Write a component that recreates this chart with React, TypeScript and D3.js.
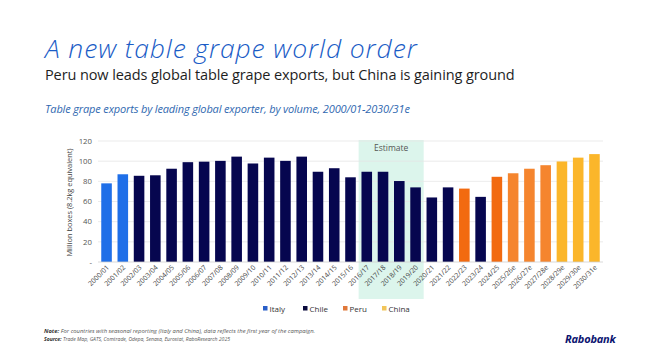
import React from "react";
import * as d3 from "d3";

const categories = [
  "2000/01","2001/02","2002/03","2003/04","2004/05","2005/06","2006/07","2007/08",
  "2008/09","2009/10","2010/11","2011/12","2012/13","2013/14","2014/15","2015/16",
  "2016/17","2017/18","2018/19","2019/20","2020/21","2021/22","2022/23","2023/24",
  "2024/25","2025/26e","2026/27e","2027/28e","2028/29e","2029/30e","2030/31e",
];
const values = [
  78, 87, 85.5, 86, 92.5, 99, 99.5, 100.3, 104.5, 97.7, 103.5, 100.3, 104.5, 89.5, 93, 84,
  89.5, 89.5, 80.3, 74, 64, 74, 72.8, 64.6, 84.5, 88, 92.5, 96, 99.7, 103.5, 107,
];
const leaders = [
  "Italy","Italy","Chile","Chile","Chile","Chile","Chile","Chile","Chile","Chile","Chile",
  "Chile","Chile","Chile","Chile","Chile","Chile","Chile","Chile","Chile","Chile","Chile",
  "Peru","Chile","Peru","Peru","Peru","Peru","China","China","China",
];
const legendItems = ["Italy", "Chile", "Peru", "China"];
const yTicks = [0, 20, 40, 60, 80, 100, 120];
const estimateRange = ["2016/17", "2019/20"];

const colors: Record<string, string> = {
  Italy: "#1f6fe8",
  Chile: "#06064f",
  Peru: "#f26a10",
  China: "#fbb62a",
};
const estColors: Record<string, string> = {
  Italy: "#1f6fe8",
  Chile: "#06064f",
  Peru: "#f5852e",
  China: "#fbb62a",
};
const legendColors: Record<string, string> = {
  Italy: "#2a5fc8",
  Chile: "#0a0a3c",
  Peru: "#e0783a",
  China: "#f2c55a",
};

export default function App() {
  const W = 650, H = 357;
  const x = d3.scaleBand<string>().domain(categories).range([98, 603]).paddingInner(0.35).paddingOuter(0.2);
  const y = d3.scaleLinear().domain([0, 120]).range([262, 141]);
  const gap = x.step() - x.bandwidth();
  const estX0 = (x(estimateRange[0]) as number) - gap / 2;
  const estX1 = (x(estimateRange[1]) as number) + x.bandwidth() + gap / 2;
  const font = "'Open Sans', 'Noto Sans', sans-serif";
  const legendX = [263, 303, 343, 382];

  return (
    <svg width={W} height={H} style={{ position: "absolute", left: 0, top: 0, background: "#fff" }} fontFamily={font}>
      <rect x={0} y={0} width={W} height={H} fill="#fff" />
      <text x={45} y={58} fontSize={26.5} fontStyle="italic" fontWeight={300} fill="#1a5cc6" letterSpacing={0.9}>
        A new table grape world order
      </text>
      <text x={45} y={79.5} fontSize={14.5} fill="#1e1e1e" letterSpacing={-0.1}>
        Peru now leads global table grape exports, but China is gaining ground
      </text>
      <text x={45} y={113} fontSize={11} fontStyle="italic" fill="#2f68b0" letterSpacing={-0.15}>
        Table grape exports by leading global exporter, by volume, 2000/01-2030/31e
      </text>

      <rect x={estX0} y={140} width={estX1 - estX0} height={159} fill="#dcf5ec" />
      <text x={(estX0 + estX1) / 2} y={151} fontSize={8.5} fill="#555" textAnchor="middle">Estimate</text>

      {yTicks.map((t) => (
        <g key={t}>
          {t > 0 && <line x1={98} x2={603} y1={y(t)} y2={y(t)} stroke="#e6e6e6" strokeWidth={0.8} />}
          <text x={92} y={y(t) + 2.8} fontSize={7.8} fill="#555" textAnchor="end">
            {t === 0 ? "-" : t}
          </text>
        </g>
      ))}
      <text transform={`translate(72,${(y(0) + y(120)) / 2 + 1}) rotate(-90)`} fontSize={7.4} fill="#444" textAnchor="middle">
        Million boxes (8.2kg equivalent)
      </text>

      {categories.map((c, i) => {
        const est = c.endsWith("e");
        const fill = est ? estColors[leaders[i]] : colors[leaders[i]];
        return (
          <rect key={c} x={x(c)} y={y(values[i])} width={x.bandwidth()} height={y(0) - y(values[i])} fill={fill} />
        );
      })}
      <line x1={98} x2={603} y1={y(0)} y2={y(0)} stroke="#cfcfcf" strokeWidth={0.8} />

      {categories.map((c) => {
        const cx = (x(c) as number) + x.bandwidth() / 2 + 3;
        return (
          <text key={c} transform={`translate(${cx},${268}) rotate(-45)`} fontSize={6.9} fill="#444" textAnchor="end">
            {c}
          </text>
        );
      })}

      {legendItems.map((k, i) => (
        <g key={k}>
          <rect x={legendX[i]} y={306} width={4.5} height={4.5} fill={legendColors[k]} />
          <text x={legendX[i] + 6.5} y={311.5} fontSize={8} fill="#333">{k}</text>
        </g>
      ))}

      <text x={44} y={332.5} fontSize={5.5} fontStyle="italic" fill="#555" textLength={271} lengthAdjust="spacingAndGlyphs">
        <tspan fontWeight={700} fill="#333">Note:</tspan> For countries with seasonal reporting (Italy and China), data reflects the first year of the campaign.
      </text>
      <text x={44} y={340.5} fontSize={5.5} fontStyle="italic" fill="#555" textLength={186} lengthAdjust="spacingAndGlyphs">
        <tspan fontWeight={700} fill="#333">Source:</tspan> Trade Map, GATS, Comtrade, Odepa, Senasa, Eurostat, RaboResearch 2025
      </text>
      <text x={565} y={343} fontSize={11} fontStyle="italic" fontWeight={700} fill="#0b1470" letterSpacing={-0.2}>
        Rabobank
      </text>
    </svg>
  );
}
